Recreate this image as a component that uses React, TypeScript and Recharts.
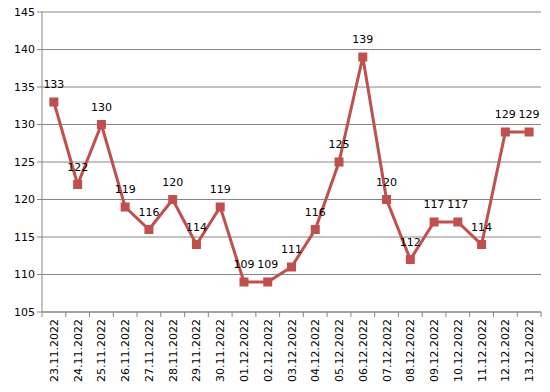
import { CartesianGrid, LabelList, Line, LineChart, XAxis, YAxis } from 'recharts'

const dates = [
  '23.11.2022', '24.11.2022', '25.11.2022', '26.11.2022', '27.11.2022',
  '28.11.2022', '29.11.2022', '30.11.2022', '01.12.2022', '02.12.2022',
  '03.12.2022', '04.12.2022', '05.12.2022', '06.12.2022', '07.12.2022',
  '08.12.2022', '09.12.2022', '10.12.2022', '11.12.2022', '12.12.2022',
  '13.12.2022',
]
const values = [
  133, 122, 130, 119, 116, 120, 114, 119, 109, 109, 111, 116, 125, 139, 120,
  112, 117, 117, 114, 129, 129,
]
const yTicks = [105, 110, 115, 120, 125, 130, 135, 140, 145]

const data = dates.map((date, i) => ({ date, value: values[i] }))

const W = 550
const H = 392
const LEFT = 42
const RIGHT = 9
const band = (W - LEFT - RIGHT) / dates.length
const font = '"DejaVu Sans", Verdana, sans-serif'

function DateTick(props: any) {
  const { x, y, payload, index } = props
  const axisY = y - 8
  return (
    <g>
      <line x1={x - band / 2} x2={x - band / 2} y1={axisY} y2={axisY + 5} stroke='#868686' />
      {index === dates.length - 1 && (
        <line x1={x + band / 2} x2={x + band / 2} y1={axisY} y2={axisY + 5} stroke='#868686' />
      )}
      <text
        x={0}
        y={0}
        transform={`translate(${x + 4},${axisY + 7}) rotate(-90)`}
        textAnchor='end'
        fontSize={11}
        fontFamily={font}
        fill='#000'
      >
        {payload.value}
      </text>
    </g>
  )
}

function SquareDot(props: any) {
  const { cx, cy } = props
  if (cx == null || cy == null) return null
  return <rect x={cx - 4.5} y={cy - 4.5} width={9} height={9} fill='#C0504D' />
}

export default function App() {
  return (
    <div style={{ position: 'absolute', left: 0, top: 0, width: W, height: H, background: '#fff' }}>
      <LineChart
        width={W}
        height={H}
        data={data}
        margin={{ top: 12, right: RIGHT, bottom: 0, left: 0 }}
      >
        <CartesianGrid vertical={false} stroke='#868686' strokeWidth={1} />
        <XAxis
          dataKey='date'
          scale='band'
          height={80}
          interval={0}
          stroke='#868686'
          tickLine={false}
          tick={<DateTick />}
        />
        <YAxis
          width={LEFT}
          domain={[105, 145]}
          ticks={yTicks}
          interval={0}
          stroke='#868686'
          tickSize={5}
          tick={{ fill: '#000', fontSize: 11, fontFamily: font }}
        />
        <Line
          type='linear'
          dataKey='value'
          stroke='#C0504D'
          strokeWidth={3}
          dot={<SquareDot />}
          activeDot={false}
          isAnimationActive={false}
        >
          <LabelList
            dataKey='value'
            position='top'
            offset={14}
            fill='#000'
            fontSize={11}
            fontFamily={font}
          />
        </Line>
      </LineChart>
    </div>
  )
}
